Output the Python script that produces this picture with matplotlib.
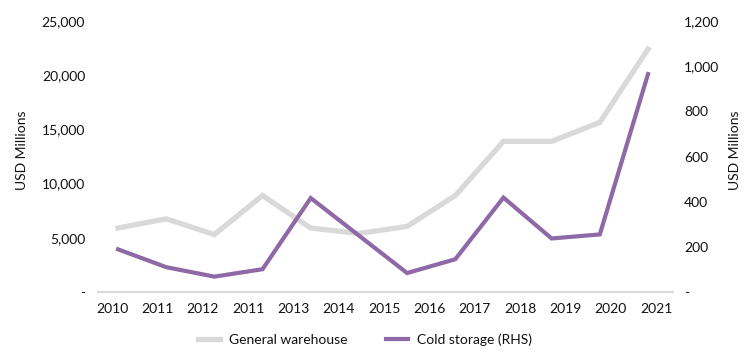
import matplotlib
matplotlib.use("Agg")
import matplotlib.pyplot as plt
import numpy as np
from matplotlib.ticker import FuncFormatter

plt.rcParams['font.family'] = ['Lato', 'DejaVu Sans']

year_labels = ["2010", "2011", "2012", "2011", "2013", "2014", "2015",
               "2016", "2017", "2018", "2019", "2020", "2021"]
general_warehouse = [5900, 6750, 5300, 8900, 5900, 5400, 6050, 8900,
                     13900, 13900, 15650, 22400]
cold_storage = [189, 110, 68, 101, 416, 250, 84, 145, 418, 237, 255, 965]

gray = "#d9d9d9"
purple = "#8e69a5"
text_color = "#111111"

W, H = 750, 361
fig = plt.figure(figsize=(W / 100, H / 100), dpi=100)
ax_l, ax_r, ax_b, ax_t = 97.6, 673, 292, 21
ax = fig.add_axes([ax_l / W, 1 - ax_b / H, (ax_r - ax_l) / W, (ax_b - ax_t) / H])
ax2 = ax.twinx()

x = np.arange(len(general_warehouse))
l1, = ax.plot(x, general_warehouse, color=gray, lw=3.8, solid_joinstyle='miter', zorder=2)
l2, = ax2.plot(x, cold_storage, color=purple, lw=3.0, solid_joinstyle='miter', zorder=3)

# x scale: first point at px 118, last point at px 648
px_per = (648 - 118) / (len(x) - 1)
ax.set_xlim(-(118 - ax_l) / px_per, (len(x) - 1) + (ax_r - 648) / px_per)
tick_pos = np.linspace((112 - 118) / px_per, (656 - 118) / px_per, len(year_labels))
ax.set_xticks(tick_pos)
ax.set_xticklabels(year_labels)

ax.set_ylim(0, 25000)
ax.set_yticks(np.arange(0, 25001, 5000))
ax2.set_ylim(0, 1200)
ax2.set_yticks(np.arange(0, 1201, 200))

fmt = FuncFormatter(lambda v, p: "-" if v == 0 else f"{v:,.0f}")
ax.yaxis.set_major_formatter(fmt)
ax2.yaxis.set_major_formatter(fmt)

for a in (ax, ax2):
    for s in a.spines.values():
        s.set_visible(False)
    a.tick_params(length=0, labelsize=10, colors=text_color)
ax.spines['bottom'].set_visible(True)
ax.spines['bottom'].set_color(gray)
ax.spines['bottom'].set_linewidth(1.5)
ax.tick_params(axis='y', pad=9)
ax2.tick_params(axis='y', pad=8)
ax.tick_params(axis='x', pad=8)

fig.text(22 / W, 1 - 150 / H, "USD Millions", rotation=90, ha='center', va='center',
         fontsize=10, color=text_color)
fig.text(735 / W, 1 - 150 / H, "USD Millions", rotation=90, ha='center', va='center',
         fontsize=10, color=text_color)

fig.legend([l1, l2], ["General warehouse", "Cold storage (RHS)"],
           loc='center', bbox_to_anchor=(365 / W, 1 - 340 / H), ncol=2, frameon=False,
           fontsize=10, handlelength=1.6, columnspacing=2.8, handletextpad=0.6,
           labelcolor=text_color)

fig.savefig("out.png", dpi=100)
